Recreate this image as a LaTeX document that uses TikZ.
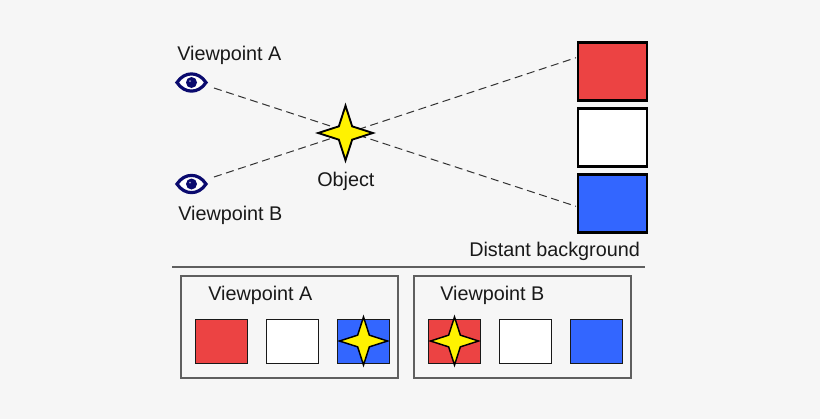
\documentclass[tikz,border=0pt]{standalone}
\usepackage{fontspec}
\setmainfont{Liberation Sans}
\usetikzlibrary{shapes.geometric,positioning}
\definecolor{bggray}{HTML}{F6F6F6}
\definecolor{framegray}{HTML}{5F5F5F}
\definecolor{eyenavy}{HTML}{0A0A6E}
\definecolor{bgred}{HTML}{EC4343}
\definecolor{bgblue}{HTML}{3366FF}
\tikzstyle{label} = [inner sep=0pt, anchor=base west, font=\fontsize{14.85pt}{17pt}\selectfont, text=black!90]
\tikzstyle{bigsq} = [draw=black, line width=1.7pt, rectangle, minimum width=51.6pt, minimum height=43.6pt, inner sep=0pt]
\tikzstyle{smallsq} = [draw=black!90, line width=1.1pt, rectangle, minimum width=38.8pt, minimum height=33pt, inner sep=0pt]
\tikzstyle{panel} = [draw=framegray, line width=1.3pt, rectangle, minimum width=162.8pt, minimum height=76.5pt, inner sep=0pt]
\tikzstyle{bigstar} = [draw=black, line width=1.4pt, fill=yellow, star, star points=4, star point ratio=2.9, minimum size=41pt, inner sep=0pt]
\tikzstyle{smallstar} = [draw=black, line width=1.1pt, fill=yellow, star, star points=4, star point ratio=2.9, minimum size=36pt, inner sep=0pt]
\tikzstyle{sight} = [draw=black!80, line width=0.75pt, dash pattern=on 6pt off 3.5pt]
\tikzset{
  pics/eye/.style={code={
    \draw [eyenavy, line width=2.4pt, fill=white] (-14.5,0) .. controls (-7,-11.5) and (7,-11.5) .. (14.5,0)
       .. controls (7,11.5) and (-7,11.5) .. (-14.5,0) -- cycle;
    \fill [eyenavy] (0,0) circle (5.5);
    \fill [white!60!eyenavy] (-1.5,-1.5) circle (1);
  }}
}
\begin{document}
\begin{tikzpicture}[x=0.75pt, y=-0.75pt]
   \useasboundingbox (0,0) rectangle (820,419);
   \fill [bggray] (0,0) rectangle (820,419);

   % viewpoints
   \pic (eyeA) at (191.5,82.5) {eye};
   \pic (eyeB) at (191.5,184) {eye};
   \node [label] (labelA) at (177,60) {Viewpoint A};
   \node [label] (labelB) at (178,220) {Viewpoint B};

   % distant background
   \node [bigsq, fill=bgred] (farred) at (612.5,71.5) {};
   \node [bigsq, fill=white] (farwhite) at (612.5,137.5) {};
   \node [bigsq, fill=bgblue] (farblue) at (612.5,203.5) {};
   \node [label] (labelfar) at (469,256.5) {Distant background};

   % lines of sight
   \coordinate (startA) at (214,88);
   \coordinate (startB) at (214,177);
   \coordinate (endA) at (576,206.3);
   \coordinate (endB) at (576,57.7);
   \path [sight] (startA) -- (endA);
   \path [sight] (startB) -- (endB);

   \node [bigstar] (object) at (345.5,133) {};
   \node [label] (labelobj) at (317,186) {Object};

   % separator
   \coordinate (sepleft) at (172,267);
   \coordinate (sepright) at (645,267);
   \draw [framegray, line width=1.3pt] (sepleft) -- (sepright);

   % views
   \node [panel] (panelA) at (289.5,327) {};
   \node [panel] (panelB) at (522.5,327) {};
   \node [label] (titleA) at (208,300) {Viewpoint A};
   \node [label] (titleB) at (440,300) {Viewpoint B};

   \node [smallsq, fill=bgred] (viewAred) at (221.5,341.5) {};
   \node [smallsq, fill=white] (viewAwhite) at (292.5,341.5) {};
   \node [smallsq, fill=bgblue] (viewAblue) at (363.5,341.5) {};
   \node [smallstar] (objectA) at (363.5,341) {};

   \node [smallsq, fill=bgred] (viewBred) at (454.5,341.5) {};
   \node [smallsq, fill=white] (viewBwhite) at (525.5,341.5) {};
   \node [smallsq, fill=bgblue] (viewBblue) at (596.5,341.5) {};
   \node [smallstar] (objectB) at (454.5,341) {};
\end{tikzpicture}
\end{document}
